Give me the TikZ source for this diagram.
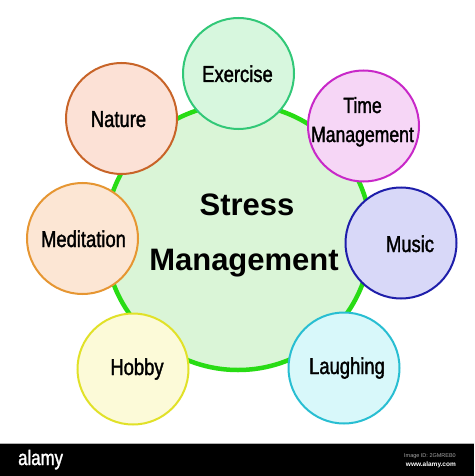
\documentclass[tikz,border=0pt]{standalone}
\usepackage{fontspec}
\setmainfont{Liberation Sans}
\newfontfamily\narrowfont[FakeStretch=0.8,FakeBold=1.5]{Liberation Sans}
\definecolor{cfill}{RGB}{218,245,215}
\definecolor{cborder}{RGB}{40,220,20}
\definecolor{exfill}{RGB}{215,247,222}
\definecolor{exborder}{RGB}{50,200,120}
\definecolor{tmfill}{RGB}{246,214,246}
\definecolor{tmborder}{RGB}{200,40,200}
\definecolor{mufill}{RGB}{216,216,248}
\definecolor{muborder}{RGB}{30,30,170}
\definecolor{lafill}{RGB}{216,248,250}
\definecolor{laborder}{RGB}{40,190,210}
\definecolor{hofill}{RGB}{252,250,216}
\definecolor{hoborder}{RGB}{225,225,40}
\definecolor{mefill}{RGB}{252,230,212}
\definecolor{meborder}{RGB}{230,150,50}
\definecolor{nafill}{RGB}{252,225,214}
\definecolor{naborder}{RGB}{200,100,40}
\begin{document}
\begin{tikzpicture}[x=1pt,y=-1pt,
  hub/.style={circle,draw=cborder,fill=cfill,line width=4.5pt,minimum size=266pt,inner sep=0pt},
  sat/.style={circle,line width=2pt,minimum size=111pt,inner sep=0pt},
  lbl/.style={anchor=base,inner sep=0pt,font=\narrowfont\fontsize{23}{28}\selectfont},
  title/.style={anchor=base,inner sep=0pt,font=\bfseries\fontsize{31}{36}\selectfont}]
\useasboundingbox (0,0) rectangle (474,476);
\fill[white] (0,0) rectangle (474,476);
% hub
\node[hub] (hub) at (238,237) {};
% satellites
\node[sat,draw=exborder,fill=exfill] (exercise) at (238.5,73.5) {};
\node[sat,draw=tmborder,fill=tmfill] (time) at (363.5,126) {};
\node[sat,draw=muborder,fill=mufill] (music) at (401,243) {};
\node[sat,draw=laborder,fill=lafill] (laughing) at (344,368) {};
\node[sat,draw=hoborder,fill=hofill] (hobby) at (133,369) {};
\node[sat,draw=meborder,fill=mefill] (meditation) at (82.5,238.5) {};
\node[sat,draw=naborder,fill=nafill] (nature) at (121.5,118.5) {};
% labels
\node[title] (t1) at (247,215) {Stress};
\node[title] (t2) at (244,270) {Management};
\node[lbl] (lex) at (237.5,82) {Exercise};
\node[lbl,font=\narrowfont\fontsize{22}{28}\selectfont] (ltm1) at (362.5,113) {Time};
\node[lbl,font=\narrowfont\fontsize{22}{28}\selectfont] (ltm2) at (362.5,142) {Management};
\node[lbl] (lmu) at (410,252) {Music};
\node[lbl] (lla) at (347,374) {Laughing};
\node[lbl] (lho) at (137,375) {Hobby};
\node[lbl] (lme) at (83.5,247) {Meditation};
\node[lbl] (lna) at (118.5,127) {Nature};
% stock bar
\fill[black] (0,443) rectangle (474,476);
\draw[gray!60,line width=0.8pt] (0,443.4) -- (474,443.4);
\node[anchor=base west,inner sep=0pt,text=white,font=\narrowfont\fontsize{21}{22}\selectfont] (logo) at (18,465) {alamy};
\node[anchor=base east,inner sep=0pt,text=gray!70,font=\fontsize{5.5}{6}\selectfont] (imgid) at (456,457) {Image ID: 2GMREB0};
\node[anchor=base east,inner sep=0pt,text=white,font=\bfseries\fontsize{6.5}{7}\selectfont] (www) at (456,466) {www.alamy.com};
\end{tikzpicture}
\end{document}
